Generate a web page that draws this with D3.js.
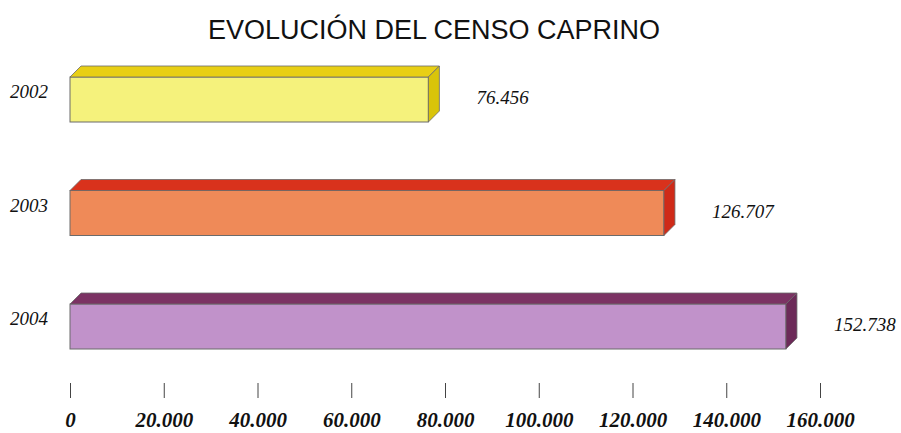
<!DOCTYPE html>
<html>
<head>
<meta charset="utf-8">
<script src="https://cdn.jsdelivr.net/npm/d3@7"></script>
<style>
  body { margin: 0; background: #fff; }
</style>
</head>
<body>
<div id="chart"></div>
<script>
// data
const years = ["2002", "2003", "2004"];
const values = [76456, 126707, 152738];
const tickValues = [0, 20000, 40000, 60000, 80000, 100000, 120000, 140000, 160000];

const colors = {
  "2002": {front: "#f5f27c", top: "#e8cf14", side: "#d9c40a"},
  "2003": {front: "#ef8a58", top: "#d9321c", side: "#cf2a18"},
  "2004": {front: "#c192ca", top: "#7b3263", side: "#6c2a58"}
};

const width = 901, height = 433;
const svg = d3.select("#chart").append("svg")
    .attr("width", width)
    .attr("height", height);

const es = d3.formatLocale({decimal: ",", thousands: ".", grouping: [3], currency: ["", "€"]});
const fmt = es.format(",d");

const x = d3.scaleLinear().domain([0, 160000]).range([70, 820]);
const y = d3.scalePoint().domain(years).range([94, 321]);

const barH = 56;   // total incl. top face
const depth = 11;

// title
svg.append("text")
  .attr("x", 434)
  .attr("y", 39)
  .attr("text-anchor", "middle")
  .attr("font-family", "Liberation Sans, Arial, sans-serif")
  .attr("font-size", "27px")
  .attr("fill", "#111")
  .text("EVOLUCIÓN DEL CENSO CAPRINO");

const rows = years.map((yr, i) => ({year: yr, value: values[i]}));

const bars = svg.append("g").selectAll("g")
  .data(rows)
  .join("g");

// front face
bars.append("rect")
  .attr("x", x(0))
  .attr("y", d => y(d.year) - barH / 2 + depth)
  .attr("width", d => x(d.value) - x(0))
  .attr("height", barH - depth)
  .attr("fill", d => colors[d.year].front)
  .attr("stroke", "#6b6b6b")
  .attr("stroke-width", 1);

// top face
bars.append("path")
  .attr("d", d => {
    const y0 = y(d.year) - barH / 2 + depth;
    const x0 = x(0), x1 = x(d.value);
    return `M${x0},${y0} L${x0 + depth},${y0 - depth} L${x1 + depth},${y0 - depth} L${x1},${y0} Z`;
  })
  .attr("fill", d => colors[d.year].top)
  .attr("stroke", "#6b6b6b")
  .attr("stroke-width", 0.8);

// side face
bars.append("path")
  .attr("d", d => {
    const y0 = y(d.year) - barH / 2 + depth;
    const y1 = y(d.year) + barH / 2;
    const x1 = x(d.value);
    return `M${x1},${y0} L${x1 + depth},${y0 - depth} L${x1 + depth},${y1 - depth} L${x1},${y1} Z`;
  })
  .attr("fill", d => colors[d.year].side)
  .attr("stroke", "#6b6b6b")
  .attr("stroke-width", 0.8);

// year labels
svg.append("g").selectAll("text")
  .data(rows)
  .join("text")
    .attr("x", 10)
    .attr("y", d => y(d.year))
    .attr("dominant-baseline", "middle")
    .attr("font-family", "Liberation Serif, Times New Roman, serif")
    .attr("font-style", "italic")
    .attr("font-size", "19px")
    .attr("fill", "#111")
    .text(d => d.year);

// value labels
svg.append("g").selectAll("text")
  .data(rows)
  .join("text")
    .attr("x", d => x(d.value) + 48)
    .attr("y", d => y(d.year) + 6)
    .attr("dominant-baseline", "middle")
    .attr("font-family", "Liberation Serif, Times New Roman, serif")
    .attr("font-style", "italic")
    .attr("font-size", "19px")
    .attr("fill", "#111")
    .text(d => fmt(d.value));

// x axis
const xAxis = d3.axisBottom(x)
  .tickValues(tickValues)
  .tickSize(15)
  .tickPadding(14)
  .tickFormat(fmt);

svg.append("g")
  .attr("transform", "translate(0, 383)")
  .call(xAxis)
  .call(g => g.select(".domain").remove())
  .call(g => g.selectAll(".tick line").attr("stroke", "#444"))
  .call(g => g.selectAll(".tick text")
    .attr("font-family", "Liberation Serif, Times New Roman, serif")
    .attr("font-style", "italic")
    .attr("font-weight", "bold")
    .attr("font-size", "21px")
    .attr("fill", "#111"));
</script>
</body>
</html>
